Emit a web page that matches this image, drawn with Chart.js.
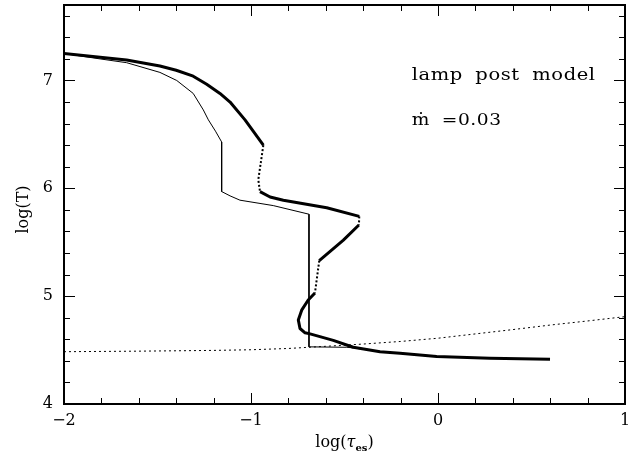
<!DOCTYPE html>
<html>
<head>
<meta charset="utf-8">
<script src="https://cdn.jsdelivr.net/npm/chart.js@4.4.1/dist/chart.umd.min.js"></script>
<style>
html, body { margin: 0; padding: 0; background: #fff; }
</style>
</head>
<body>
<canvas id="chart" width="632" height="455"></canvas>
<script>
// log(tau_es) / log(T)
const thickX = [-2, -1.807, -1.665, -1.487, -1.4, -1.309, -1.237, -1.166, -1.112, -1.032,
                -0.934, -0.961, -0.952, -0.898, -0.827, -0.595, -0.421, -0.423, -0.506, -0.635,
                -0.658, -0.694, -0.729, -0.747, -0.738, -0.711, -0.684, -0.56, -0.453, -0.31,
                -0.203, -0.007, 0.278, 0.599];
const thickY = [7.25, 7.215, 7.19, 7.135, 7.095, 7.04, 6.965, 6.88, 6.80, 6.635,
                6.40, 6.08, 5.97, 5.92, 5.89, 5.82, 5.74, 5.66, 5.52, 5.33,
                5.03, 4.965, 4.87, 4.78, 4.70, 4.66, 4.65, 4.59, 4.526, 4.485,
                4.47, 4.44, 4.424, 4.415];
// segments of the thick curve that are dotted (index of the segment start)
const thickDotted = [10, 11, 16, 19];

const thinX = [-2, -1.807, -1.665, -1.487, -1.397, -1.309, -1.255, -1.228, -1.19, -1.157,
               -1.157, -1.112, -1.059, -0.881, -0.69, -0.69, -0.488, -0.453, -0.31, -0.007,
               0.278, 0.42];
const thinY = [7.25, 7.2, 7.165, 7.075, 7.0, 6.88, 6.727, 6.635, 6.53, 6.43,
               5.97, 5.93, 5.89, 5.84, 5.76, 4.53, 4.526, 4.52, 4.487, 4.44,
               4.424, 4.418];

const dotX = [-2, -1.6, -1.2, -1, -0.8, -0.6, -0.4, -0.2, 0, 0.2, 0.4, 0.6, 0.8, 1];
const dotY = [4.485, 4.49, 4.497, 4.503, 4.515, 4.535, 4.556, 4.58, 4.61, 4.65, 4.69, 4.732, 4.77, 4.81];

const xTicks = [-2, -1, 0, 1];
const yTicks = [4, 5, 6, 7];

const notes = [
    { text: 'lamp post model', x: -0.141, y: 7.0, width: 184 },
    { text: '\u1E41 =0.03', x: -0.141, y: 6.59, width: 90 }
];

const serif = '"DejaVu Serif", "Liberation Serif", serif';

function pts(xs, ys) {
    return xs.map((v, i) => ({ x: v, y: ys[i] }));
}

function minus(v) {
    return String(v).replace('-', '\u2212');
}

const frameAndText = {
    id: 'frameAndText',
    afterDraw(chart) {
        const { ctx, chartArea: a, scales: { x, y } } = chart;
        ctx.save();
        ctx.strokeStyle = '#000';
        ctx.lineWidth = 1;
        ctx.beginPath();
        for (let i = 0; i <= 15; i++) {
            const px = Math.round(x.getPixelForValue(-2 + i * 0.2)) + 0.5;
            const len = i % 5 === 0 ? 11 : 6;
            ctx.moveTo(px, a.bottom); ctx.lineTo(px, a.bottom - len);
            ctx.moveTo(px, a.top); ctx.lineTo(px, a.top + len);
        }
        for (let i = 0; i <= 18; i++) {
            const py = Math.round(y.getPixelForValue(4 + i * 0.2)) + 0.5;
            const len = i % 5 === 0 ? 11 : 6;
            ctx.moveTo(a.left, py); ctx.lineTo(a.left + len, py);
            ctx.moveTo(a.right, py); ctx.lineTo(a.right - len, py);
        }
        ctx.stroke();

        ctx.lineWidth = 2;
        ctx.strokeRect(a.left, a.top, a.right - a.left, a.bottom - a.top);

        // annotations: wide word gaps, then stretched to the width they take in the figure
        ctx.fillStyle = '#000';
        ctx.font = '17px ' + serif;
        ctx.textBaseline = 'alphabetic';
        ctx.wordSpacing = '5px';
        ctx.letterSpacing = '0.5px';
        notes.forEach(n => {
            const natural = ctx.measureText(n.text).width;
            const sx = Math.min(1.25, Math.max(0.9, n.width / natural));
            ctx.save();
            ctx.translate(x.getPixelForValue(n.x), y.getPixelForValue(n.y));
            ctx.scale(sx, 1);
            ctx.fillText(n.text, 0, 0);
            ctx.restore();
        });
        ctx.wordSpacing = '0px';
        ctx.letterSpacing = '0px';

        // y title
        ctx.save();
        ctx.translate(24, (a.top + a.bottom) / 2 + 5);
        ctx.rotate(-Math.PI / 2);
        ctx.font = '16px ' + serif;
        ctx.textAlign = 'center';
        ctx.textBaseline = 'middle';
        ctx.fillText('log(T)', 0, 0);
        ctx.restore();

        // x title with subscript
        const base = 447;
        const p1 = 'log(', tau = '\u03C4', sub = 'es', p2 = ')';
        ctx.font = '16px ' + serif;
        const w1 = ctx.measureText(p1).width;
        ctx.font = 'italic 16px ' + serif;
        const wt = ctx.measureText(tau).width;
        ctx.font = 'bold 10px ' + serif;
        const ws = ctx.measureText(sub).width;
        ctx.font = '16px ' + serif;
        const w2 = ctx.measureText(p2).width;
        let cx = (a.left + a.right) / 2 - (w1 + wt + ws + w2) / 2;
        ctx.textAlign = 'left';
        ctx.font = '16px ' + serif;
        ctx.fillText(p1, cx, base); cx += w1;
        ctx.font = 'italic 16px ' + serif;
        ctx.fillText(tau, cx, base); cx += wt;
        ctx.font = 'bold 10px ' + serif;
        ctx.fillText(sub, cx, base + 4); cx += ws;
        ctx.font = '16px ' + serif;
        ctx.fillText(p2, cx, base);
        ctx.restore();
    }
};

new Chart(document.getElementById('chart'), {
    type: 'scatter',
    data: {
        datasets: [
            {
                data: pts(dotX, dotY),
                showLine: true,
                borderColor: '#000',
                borderWidth: 1,
                borderDash: [2, 3],
                pointRadius: 0
            },
            {
                data: pts(thinX, thinY),
                showLine: true,
                borderColor: '#000',
                borderWidth: 1,
                pointRadius: 0
            },
            {
                data: pts(thickX, thickY),
                showLine: true,
                borderColor: '#000',
                borderWidth: 3,
                borderJoinStyle: 'round',
                pointRadius: 0,
                segment: {
                    borderDash: c => thickDotted.includes(c.p0DataIndex) ? [2, 2] : undefined,
                    borderWidth: c => thickDotted.includes(c.p0DataIndex) ? 2 : undefined
                }
            }
        ]
    },
    options: {
        responsive: false,
        animation: false,
        layout: { padding: { top: 5, right: 7, left: 0, bottom: 0 } },
        plugins: { legend: { display: false }, tooltip: { enabled: false } },
        scales: {
            x: {
                type: 'linear',
                min: -2,
                max: 1,
                grid: { display: false, drawTicks: false },
                border: { display: false },
                afterBuildTicks: s => { s.ticks = xTicks.map(v => ({ value: v })); },
                afterFit: s => { s.height = 51; s.paddingLeft = 0; s.paddingRight = 0; },
                ticks: {
                    padding: 7,
                    color: '#000',
                    font: { family: serif, size: 16 },
                    maxRotation: 0,
                    autoSkip: false,
                    callback: v => minus(v)
                }
            },
            y: {
                type: 'linear',
                min: 4,
                max: 7.7,
                grid: { display: false, drawTicks: false },
                border: { display: false },
                afterBuildTicks: s => { s.ticks = yTicks.map(v => ({ value: v })); },
                afterFit: s => { s.width = 64; s.paddingTop = 0; s.paddingBottom = 0; },
                ticks: {
                    padding: 11,
                    color: '#000',
                    font: { family: serif, size: 16 },
                    autoSkip: false,
                    callback: v => minus(v)
                }
            }
        }
    },
    plugins: [frameAndText]
});
</script>
</body>
</html>
